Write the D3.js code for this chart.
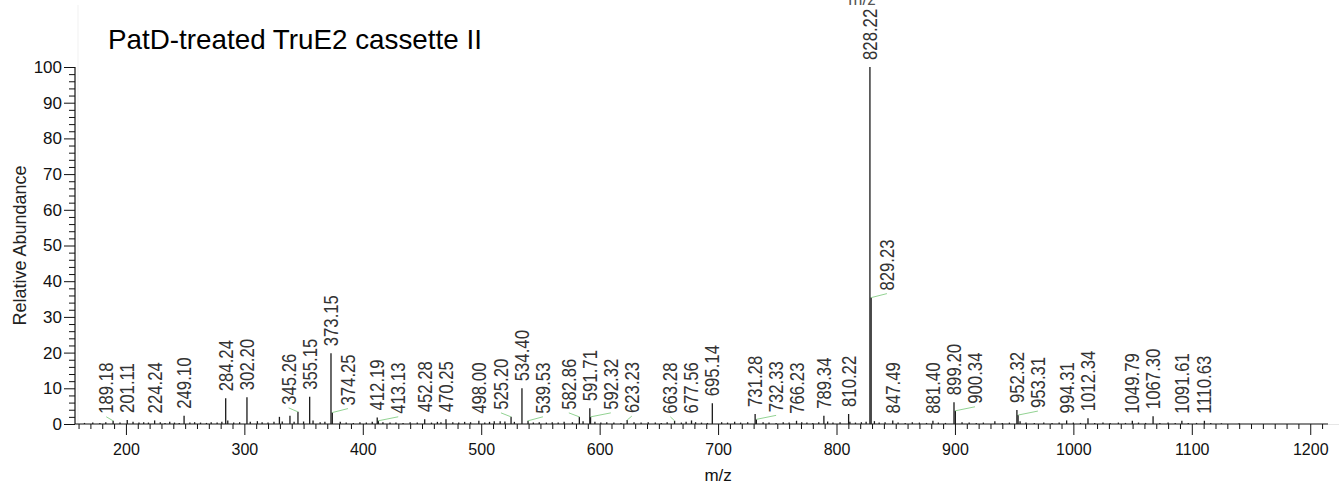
<!DOCTYPE html>
<html>
<head>
<meta charset="utf-8">
<script src="https://cdn.jsdelivr.net/npm/d3@7"></script>
<style>
  html, body { margin: 0; padding: 0; background: #fff; }
  svg { display: block; font-family: "Liberation Sans", Arial, Helvetica, sans-serif; }
</style>
</head>
<body>
<svg id="chart" width="1339" height="497"></svg>
<script>
// ---- Spectrum data -------------------------------------------------------
// Annotated centroid peaks (m/z) and their relative abundance (%)
const labelledMz = [
  189.18, 201.11, 224.24, 249.10, 284.24, 302.20, 345.26, 355.15, 373.15, 374.25,
  412.19, 413.13, 452.28, 470.25, 498.00, 525.20, 534.40, 539.53, 582.86, 591.71,
  592.32, 623.23, 663.28, 677.56, 695.14, 731.28, 732.33, 766.23, 789.34, 810.22,
  828.22, 829.23, 847.49, 881.40, 899.20, 900.34, 952.32, 953.31, 994.31, 1012.34,
  1049.79, 1067.30, 1091.61, 1110.63
];
const labelledAbund = [
  0.9, 1.1, 1.0, 2.3, 7.2, 7.5, 3.4, 7.6, 19.8, 3.2,
  1.8, 0.9, 1.3, 1.3, 0.9, 2.0, 10.0, 0.9, 2.0, 4.4,
  2.0, 1.1, 0.9, 1.0, 5.8, 2.8, 1.3, 0.9, 2.3, 2.8,
  100, 35.4, 1.0, 0.9, 6.1, 3.7, 3.9, 2.5, 1.0, 1.6,
  0.9, 2.2, 0.9, 0.9
];

// Unannotated low-level peaks along the baseline
const noiseMz = [
  165, 172, 178, 183, 195, 206, 211, 215, 219, 229, 233, 237, 241, 245, 254, 258,
  263, 268, 272, 277, 281, 286, 291, 296, 305, 311, 315, 320, 325, 329.6, 332, 338.5,
  342, 350, 358, 364, 368, 381, 386, 392, 397.6, 403, 408, 417, 423, 428, 434, 440,
  446, 458, 463, 466, 476, 481, 486, 491, 503, 507, 511, 516, 520, 528, 544, 549,
  555, 560, 565, 570, 577, 586, 596, 601, 606, 612, 618, 629, 635, 641, 647, 652,
  657, 669, 673, 681, 686, 691, 703, 708, 714, 719, 725, 738, 743, 749, 755, 760,
  770.6, 775, 780, 785, 792.5, 797, 803, 811.3, 816, 821, 825, 832, 836, 841, 852, 858,
  864, 870, 876, 886, 892, 906, 912, 918, 924, 933.7, 940, 946, 955, 960, 967, 975,
  982, 988, 1000, 1006, 1018, 1025, 1031, 1038, 1044, 1055, 1061, 1073, 1080, 1086, 1097, 1104,
  1116, 1125, 1140
];
const noiseAbund = [
  0.3, 0.4, 0.3, 0.5, 0.4, 0.6, 0.4, 0.5, 0.4, 0.5, 0.3, 0.6, 0.4, 0.3, 0.4, 0.5,
  0.4, 0.3, 0.5, 0.4, 0.6, 1.0, 0.4, 0.5, 0.6, 0.8, 0.5, 0.4, 0.6, 2.0, 0.7, 2.3,
  0.6, 0.7, 1.0, 0.5, 0.6, 0.6, 0.4, 0.3, 0.5, 0.4, 0.6, 0.5, 0.4, 0.4, 0.3, 0.5,
  0.4, 0.4, 0.6, 0.5, 0.5, 0.4, 0.6, 0.5, 0.4, 0.6, 0.8, 0.8, 0.7, 0.6, 0.4, 0.5,
  0.4, 0.5, 0.4, 0.6, 0.5, 0.8, 0.6, 0.4, 0.5, 0.4, 0.3, 0.5, 0.4, 0.5, 0.4, 0.3,
  0.5, 0.4, 0.6, 0.5, 0.4, 0.3, 0.5, 0.4, 0.6, 0.4, 0.5, 0.5, 0.4, 0.3, 0.5, 0.4,
  0.5, 0.4, 0.3, 0.5, 0.7, 0.4, 0.5, 0.6, 0.4, 0.5, 0.6, 0.8, 0.4, 0.5, 0.4, 0.3,
  0.5, 0.4, 0.3, 0.4, 0.3, 0.5, 0.4, 0.3, 0.4, 0.8, 0.3, 0.4, 0.8, 0.4, 0.3, 0.4,
  0.3, 0.4, 0.4, 0.3, 0.3, 0.4, 0.3, 0.4, 0.3, 0.4, 0.3, 0.3, 0.4, 0.3, 0.3, 0.3,
  0.3, 0.2, 0.2
];

// Axis ticks and texts
const xMajorTicks = [200, 300, 400, 500, 600, 700, 800, 900, 1000, 1100, 1200];
const yMajorTicks = [0, 10, 20, 30, 40, 50, 60, 70, 80, 90, 100];
const xMinorStep = 10;
const yMinorStep = 2;
const titleText = "PatD-treated TruE2 cassette II";
const xTitleText = "m/z";
const yTitleText = "Relative Abundance";

// ---- Layout ---------------------------------------------------------------
const svg = d3.select("#chart");
const x = d3.scaleLinear().domain([157, 1215]).range([75, 1328]);
const y = d3.scaleLinear().domain([0, 100]).range([424, 67]);
const baseY = y(0);

const INK = "#111";
const LABEL_FS = 19.5;      // peak label font size
const SQUEEZE = 0.86;       // condensed label glyphs
const LABEL_GAP = 21;       // min spacing between overlapping labels
const LINE_GAP = 17;        // min spacing between a label and an annotated stick
const LIFT = 7;             // label distance above its peak

// faint frame remnants
svg.append("line").attr("x1", 78).attr("x2", 78).attr("y1", 5).attr("y2", baseY)
  .attr("stroke", "#f1f1f1").attr("stroke-width", 1);
svg.append("line").attr("x1", 1328).attr("x2", 1339).attr("y1", baseY + 0.5).attr("y2", baseY + 0.5)
  .attr("stroke", "#e6e6e6").attr("stroke-width", 1);

// heading of a panel above, partly out of view at the top edge
svg.append("text").attr("x", 862).attr("y", 5).attr("text-anchor", "middle")
  .attr("font-size", 17).attr("fill", "#555").text(xTitleText);

// ---- Axes -------------------------------------------------------------------
const minorX = d3.range(160, 1215, xMinorStep).filter(v => v % 100 !== 0);
const minorY = d3.range(0, 100.01, yMinorStep).filter(v => v % 10 !== 0);

const gx = svg.append("g").attr("transform", `translate(0,${baseY})`);
gx.append("g").call(d3.axisBottom(x).tickValues(minorX).tickSize(5).tickSizeOuter(0).tickFormat(""))
  .call(g => g.select(".domain").remove());
gx.append("g").call(d3.axisBottom(x).tickValues(xMajorTicks).tickSize(11).tickPadding(9).tickSizeOuter(0).tickFormat(d3.format("d")))
  .call(g => g.select(".domain").remove())
  .call(g => g.selectAll("text").attr("font-size", 16).attr("fill", INK).attr("font-family", null));
gx.append("line").attr("x1", x.range()[0]).attr("x2", x.range()[1]).attr("stroke", INK).attr("stroke-width", 1.2);
gx.selectAll(".tick line").attr("stroke", INK);

const gy = svg.append("g").attr("transform", `translate(${x.range()[0]},0)`);
gy.append("g").call(d3.axisLeft(y).tickValues(minorY).tickSize(6).tickSizeOuter(0).tickFormat(""))
  .call(g => g.select(".domain").remove());
gy.append("g").call(d3.axisLeft(y).tickValues(yMajorTicks).tickSize(11).tickPadding(2).tickSizeOuter(0).tickFormat(d3.format("d")))
  .call(g => g.select(".domain").remove())
  .call(g => g.selectAll("text").attr("font-size", 17).attr("fill", INK).attr("font-family", null));
gy.append("line").attr("y1", y.range()[0]).attr("y2", y.range()[1]).attr("stroke", INK).attr("stroke-width", 1.2);
gy.selectAll(".tick line").attr("stroke", INK);

// axis titles and chart title
svg.append("text").attr("x", x(700)).attr("y", 481)
  .attr("text-anchor", "middle").attr("font-size", 17).attr("fill", INK).text(xTitleText);
svg.append("text").attr("transform", `translate(26,${(y(0) + y(100)) / 2}) rotate(-90)`)
  .attr("text-anchor", "middle").attr("font-size", 18).attr("fill", "#222").text(yTitleText);
svg.append("text").attr("x", 108).attr("y", 48.5).attr("font-size", 27.8).attr("fill", "#000").text(titleText);

// ---- Sticks -------------------------------------------------------------------
const sticks = noiseMz.map((m, i) => ({ mz: m, ab: noiseAbund[i] }))
  .concat(labelledMz.map((m, i) => ({ mz: m, ab: labelledAbund[i] })));
svg.append("g").selectAll("line").data(sticks).join("line")
  .attr("x1", d => x(d.mz)).attr("x2", d => x(d.mz))
  .attr("y1", baseY).attr("y2", d => y(d.ab))
  .attr("stroke", "#1a1a1a").attr("stroke-width", 1.3);

// ---- Label placement: strongest peaks first, weaker ones slide aside ---------
const measure = svg.append("text").attr("font-size", LABEL_FS).style("visibility", "hidden");
const labels = labelledMz.map((mz, i) => {
  const text = mz.toFixed(2);
  measure.text(text);
  const len = measure.node().getComputedTextLength() * SQUEEZE;
  const px = x(mz), py = y(labelledAbund[i]);
  return { mz, ab: labelledAbund[i], text, px, py, bottom: py - LIFT, top: py - LIFT - len, lx: px };
});
measure.remove();

const order = d3.range(labels.length)
  .sort((a, b) => (labels[b].ab - labels[a].ab) || (labels[a].mz - labels[b].mz));
const placed = [];
order.forEach(i => {
  const L = labels[i];
  const blocks = [];
  placed.forEach(P => {
    if (L.top < P.bottom && L.bottom > P.top) blocks.push([P.lx - LABEL_GAP, P.lx + LABEL_GAP]);
    if (L.bottom > P.py) blocks.push([P.px - LINE_GAP, P.px + LINE_GAP]);
  });
  const free = v => blocks.every(b => v <= b[0] + 1e-6 || v >= b[1] - 1e-6);
  const cands = [L.px];
  blocks.forEach(b => cands.push(b[0], b[1]));
  cands.sort((a, b) => Math.abs(a - L.px) - Math.abs(b - L.px));
  L.lx = cands.find(free);
  placed.push(L);
});

// leader lines for displaced labels
svg.append("g").selectAll("line").data(labels.filter(d => Math.abs(d.lx - d.px) > 3)).join("line")
  .attr("x1", d => d.px).attr("y1", d => d.py)
  .attr("x2", d => d.lx).attr("y2", d => d.py - 4)
  .attr("stroke", "#93d393").attr("stroke-width", 1);

svg.append("g").selectAll("text").data(labels).join("text")
  .attr("transform", d => `translate(${d.lx},${d.bottom}) rotate(-90) scale(${SQUEEZE},1)`)
  .attr("dy", "0.36em")
  .attr("font-size", LABEL_FS).attr("fill", "#333")
  .text(d => d.text);
</script>
